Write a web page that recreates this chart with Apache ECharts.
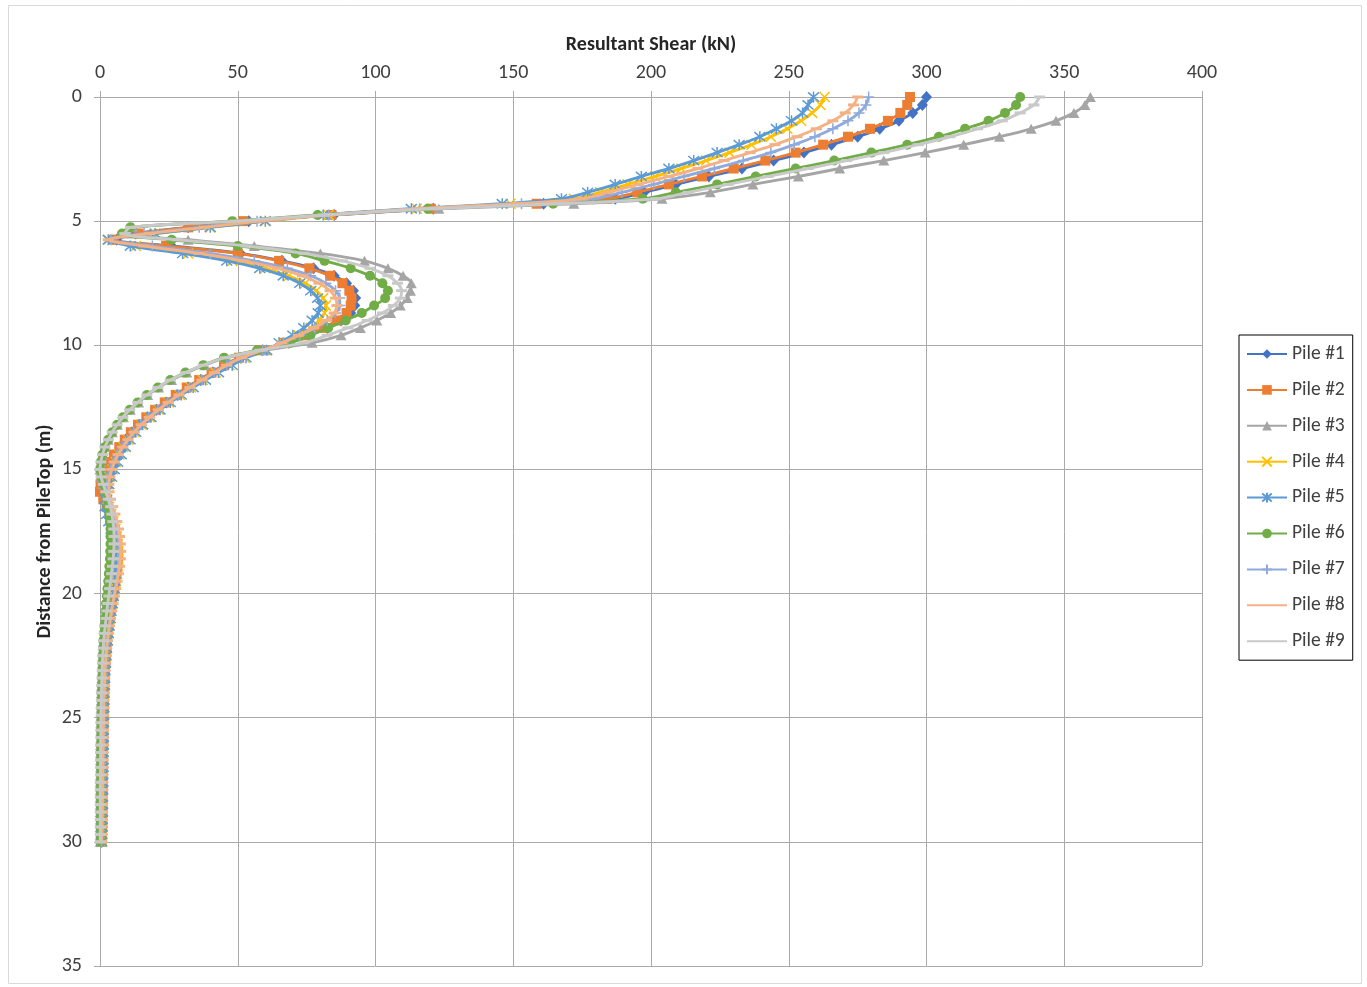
<!DOCTYPE html>
<html><head><meta charset="utf-8">
<script src="https://cdn.jsdelivr.net/npm/echarts@6/dist/echarts.min.js"></script>
<style>html,body{margin:0;padding:0;background:#fff}#c{width:1367px;height:987px}</style>
</head><body><div id="c"></div>
<script>
const depth = [0, 0.32, 0.64, 0.96, 1.28, 1.6, 1.92, 2.24, 2.56, 2.88, 3.2, 3.52, 3.84,
 4.1, 4.3, 4.5, 4.75, 5.0, 5.25, 5.5, 5.75, 6.0,
 6.3, 6.6, 6.9, 7.2, 7.5, 7.8, 8.1, 8.4, 8.7, 9.0, 9.3, 9.6, 9.9,
 10.2, 10.5, 10.8, 11.1, 11.4, 11.7, 12.0, 12.3, 12.6, 12.9, 13.2, 13.5, 13.8, 14.1, 14.4, 14.7, 15.0, 15.3, 15.6, 15.9,
 16.2, 16.5, 16.8, 17.1, 17.4, 17.7, 18.0, 18.3, 18.6, 18.9, 19.2, 19.5, 19.8, 20.1, 20.4, 20.7, 21.0, 21.3, 21.6, 21.9,
 22.2, 22.5, 22.8, 23.1, 23.4, 23.7, 24.0, 24.3, 24.6, 24.9, 25.2, 25.5, 25.8, 26.1, 26.4, 26.7, 27.0, 27.3, 27.6, 27.9, 28.2, 28.5, 28.8, 29.1, 29.4, 29.7, 30.0];

const pile1 = [300, 298.5, 295, 290, 283, 275, 265.5, 255.5, 244.5, 233, 221, 209, 197.5,
 187, 161, 121, 85, 54, 32, 13, 6, 26,
 51, 66, 77.5, 85, 89.5, 92, 92.8, 92.5, 91, 87.5, 82.5, 76, 68.5,
 59, 51, 45.5, 41, 36.5, 32, 28, 24, 20.5, 17.2, 14.2, 11.6, 9.3, 7.3, 5.4, 3.8, 2.4, 1.3, 0.6, 0.4,
 1.4, 2.5, 3.6, 4.6, 5.4, 6.0, 6.4, 6.6, 6.6, 6.4, 6.1, 5.7, 5.3, 4.8, 4.4, 4.0, 3.6, 3.2, 2.8, 2.5,
 2.4, 2.2, 2.0, 1.8, 1.7, 1.6, 1.5, 1.4, 1.4, 1.3, 1.3, 1.2, 1.2, 1.2, 1.1, 1.1, 1.1, 1.0, 1.0, 1.0, 0.9, 0.9, 0.9, 0.8, 0.8, 0.7, 0.6];

const pile2 = [294, 293, 290.5, 286, 279.5, 271.5, 262.5, 252.5, 241.5, 230, 218.5, 206.5, 195,
 184, 158.5, 120, 84, 52, 32, 14, 5, 24,
 50, 65, 76, 83.5, 88, 90.5, 91.3, 91, 89.5, 86, 81, 74.5, 67,
 58, 50.5, 45, 40.5, 36, 31.5, 27.5, 23.5, 20, 16.8, 13.8, 11.2, 9, 7, 5, 3.3, 1.9, 0.8, 0.2, 0,
 1.2, 2.4, 3.5, 4.5, 5.3, 5.9, 6.3, 6.5, 6.5, 6.3, 6.0, 5.6, 5.2, 4.8, 4.3, 3.9, 3.5, 3.1, 2.8, 2.5,
 2.4, 2.2, 2.0, 1.8, 1.7, 1.6, 1.5, 1.4, 1.4, 1.3, 1.3, 1.2, 1.2, 1.2, 1.1, 1.1, 1.1, 1.0, 1.0, 1.0, 0.9, 0.9, 0.9, 0.8, 0.8, 0.7, 0.6];

const pile3 = [359.5, 357.5, 353.5, 347, 338, 326.5, 313.5, 299.5, 284.5, 268.5, 253.5, 237, 221.5,
 204, 172, 123, 83, 49, 12, 10, 32, 56,
 80, 96, 104.5, 110, 113, 112.7, 111.5, 109, 105.5, 100.5, 94.5, 87.5, 77,
 60, 46, 38, 31.5, 26, 21.3, 17.3, 14, 11, 8.5, 6.3, 4.5, 3, 1.8, 0.9, 0.3, 0, 0.3, 1, 2,
 2.9, 3.6, 4.1, 4.5, 4.8, 5.0, 5.0, 4.9, 4.7, 4.4, 4.1, 3.8, 3.4, 3.1, 2.7, 2.4, 2.1, 1.8, 1.6, 1.4,
 1.2, 1.0, 0.9, 0.8, 0.7, 0.6, 0.5, 0.5, 0.4, 0.4, 0.3, 0.3, 0.3, 0.2, 0.2, 0.2, 0.2, 0.2, 0.1, 0.1, 0.1, 0.1, 0.1, 0.1, 0.1, 0.1, 0.1];

const pile4 = [263, 261.5, 258.5, 254.5, 249.5, 243.5, 236.5, 228.5, 220, 211, 201.5, 191.5, 181.5,
 172, 149, 115, 83, 60, 40, 20, 3, 13,
 32, 48, 60, 68.5, 74.5, 78.5, 81, 82, 81.5, 79.5, 76.5, 72, 66.5,
 60.5, 52.5, 47, 42, 37.3, 33, 29, 25, 21.3, 18, 15, 12.5, 10.3, 8.5, 7, 5.7, 4.6, 3.6, 2.8, 2.3,
 2.6, 3.3, 4.1, 4.9, 5.6, 6.1, 6.5, 6.7, 6.7, 6.5, 6.2, 5.8, 5.4, 5.0, 4.5, 4.1, 3.7, 3.3, 3.0, 2.7,
 2.4, 2.2, 2.0, 1.8, 1.7, 1.6, 1.5, 1.4, 1.4, 1.3, 1.3, 1.2, 1.2, 1.2, 1.1, 1.1, 1.1, 1.0, 1.0, 1.0, 0.9, 0.9, 0.9, 0.8, 0.8, 0.7, 0.6];

const pile5 = [259, 257, 255, 251, 245.5, 239.5, 232, 224, 215.5, 206.5, 196.5, 187, 177,
 167.5, 146, 113, 81, 60, 40, 20, 3, 11,
 30, 46, 58, 66.5, 72.5, 76.5, 79, 80, 79.2, 77, 74, 70, 65,
 60.5, 53, 48, 43, 38.3, 33.8, 29.5, 25.5, 21.8, 18.5, 15.5, 13, 10.9, 9.2, 7.7, 6.4, 5.2, 4.2, 3.2, 2.4,
 1.8, 1.8, 2.4, 3.2, 4.0, 4.6, 5.1, 5.5, 5.7, 5.7, 5.6, 5.4, 5.1, 4.8, 4.4, 4.0, 3.7, 3.3, 3.0, 2.7,
 2.4, 2.2, 2.0, 1.8, 1.7, 1.6, 1.5, 1.4, 1.4, 1.3, 1.3, 1.2, 1.2, 1.2, 1.1, 1.1, 1.1, 1.0, 1.0, 1.0, 0.9, 0.9, 0.9, 0.8, 0.8, 0.7, 0.6];

const pile6 = [334, 332.5, 328.5, 322.5, 314, 304.5, 293, 280, 266.5, 252.5, 238, 224, 209,
 197, 164.5, 119, 79, 48, 11, 8, 26, 50,
 71, 81.5, 91, 98, 102.5, 104.5, 103.5, 99.5, 95, 89.2, 82.8, 76.4, 69,
 57, 45, 37.5, 31, 25.5, 21, 17, 13.7, 10.8, 8.3, 6.2, 4.4, 3, 1.8, 0.9, 0.3, 0, 0.4, 1.2, 2.1,
 2.7, 3.1, 3.4, 3.6, 3.8, 3.8, 3.8, 3.7, 3.6, 3.4, 3.2, 3.0, 2.7, 2.5, 2.2, 2.0, 1.8, 1.6, 1.4, 1.2,
 1.1, 1.0, 0.9, 0.8, 0.7, 0.6, 0.5, 0.5, 0.4, 0.4, 0.3, 0.3, 0.3, 0.2, 0.2, 0.2, 0.2, 0.2, 0.1, 0.1, 0.1, 0.1, 0.1, 0.1, 0.1, 0.1, 0.1];

const pile7 = [279, 278, 275.5, 271.5, 266, 259.5, 252, 243.5, 233.5, 223, 212, 201, 189.5,
 179, 153, 116, 83, 57, 36, 16, 4, 19,
 40, 56, 68, 76.5, 82, 85.5, 87, 87, 85.5, 82.5, 78, 72.5, 66.5,
 59, 51.5, 46, 41.5, 37, 32.5, 28.5, 24.5, 21, 17.7, 14.8, 12.2, 10, 8, 6.3, 4.9, 3.8, 3, 2.5, 2.4,
 3.0, 3.8, 4.6, 5.4, 6.0, 6.5, 6.8, 7.0, 6.9, 6.7, 6.4, 6.0, 5.5, 5.1, 4.6, 4.2, 3.8, 3.4, 3.0, 2.7,
 2.4, 2.2, 2.0, 1.8, 1.7, 1.6, 1.5, 1.4, 1.4, 1.3, 1.3, 1.2, 1.2, 1.2, 1.1, 1.1, 1.1, 1.0, 1.0, 1.0, 0.9, 0.9, 0.9, 0.8, 0.8, 0.7, 0.6];

const pile8 = [275, 273.5, 270.5, 266, 260, 253, 245, 236, 226.5, 217, 206.5, 195.5, 184.5,
 175, 151, 115, 83, 58, 38, 18, 3, 16,
 36, 52, 64.5, 73.5, 79.5, 83.5, 85.5, 86, 85, 82, 77.5, 72, 66,
 59, 51.5, 46, 41.5, 37, 32.7, 28.7, 24.8, 21.2, 18, 15, 12.4, 10.2, 8.3, 6.6, 5.3, 4.3, 3.6, 3.2, 3.3,
 3.8, 4.6, 5.4, 6.1, 6.7, 7.1, 7.4, 7.5, 7.4, 7.1, 6.7, 6.2, 5.7, 5.2, 4.7, 4.2, 3.8, 3.4, 3.0, 2.7,
 2.4, 2.2, 2.0, 1.8, 1.7, 1.6, 1.5, 1.4, 1.4, 1.3, 1.3, 1.2, 1.2, 1.2, 1.1, 1.1, 1.1, 1.0, 1.0, 1.0, 0.9, 0.9, 0.9, 0.8, 0.8, 0.7, 0.6];

const pile9 = [341, 339, 334, 327.5, 318.5, 308.5, 297, 284.5, 271, 257, 242.5, 228, 213.5,
 202, 167, 121, 81, 49, 11, 9, 28, 53,
 74, 88, 98, 104.5, 108, 109.5, 109, 106.5, 102.5, 97, 90, 82.5, 74,
 58, 45.5, 37.5, 31, 25.5, 21, 17, 13.7, 10.8, 8.3, 6.2, 4.4, 3, 1.8, 0.9, 0.3, 0, 0.4, 1.2, 2.1,
 3.0, 3.8, 4.3, 4.7, 5.0, 5.1, 5.1, 5.0, 4.8, 4.5, 4.2, 3.9, 3.5, 3.2, 2.8, 2.5, 2.2, 1.9, 1.6, 1.4,
 1.2, 1.0, 0.9, 0.8, 0.7, 0.6, 0.5, 0.5, 0.4, 0.4, 0.3, 0.3, 0.3, 0.2, 0.2, 0.2, 0.2, 0.2, 0.1, 0.1, 0.1, 0.1, 0.1, 0.1, 0.1, 0.1, 0.1];

const pileNames = ['Pile #1', 'Pile #2', 'Pile #3', 'Pile #4', 'Pile #5', 'Pile #6', 'Pile #7', 'Pile #8', 'Pile #9'];
const pileValues = [pile1, pile2, pile3, pile4, pile5, pile6, pile7, pile8, pile9];

const colors = ['#4472C4', '#ED7D31', '#A5A5A5', '#FFC000', '#5B9BD5', '#70AD47', '#8FAADC', '#F4B183', '#C9C9C9'];
const markers = [
  {symbol: 'diamond', size: [11, 12], stroke: false},
  {symbol: 'rect', size: 10, stroke: false},
  {symbol: 'triangle', size: [11, 10], stroke: false},
  {symbol: 'path://M0,0L10,10M10,0L0,10', size: 10, stroke: true},
  {symbol: 'path://M0,0L10,10M10,0L0,10M5,-1L5,11', size: 11, stroke: true},
  {symbol: 'circle', size: 10, stroke: false},
  {symbol: 'path://M5,0L5,10M0,5L10,5', size: 11, stroke: true},
  {symbol: 'rect', size: [11, 3], stroke: false},
  {symbol: 'rect', size: [11, 3], stroke: false}
];

const FONT = 'Carlito, Calibri, Lato, "Open Sans", sans-serif';
const gridColor = '#aaaaaa';

const series = pileNames.map((name, k) => {
  const m = markers[k];
  const itemStyle = m.stroke
    ? {color: 'rgba(255,255,255,0)', borderColor: colors[k], borderWidth: 1.5}
    : {color: colors[k], borderWidth: 0};
  return {
    name: name,
    type: 'line',
    data: pileValues[k].map((v, i) => [v, depth[i]]),
    smooth: 0.35,
    symbol: m.symbol,
    symbolSize: m.size,
    showSymbol: true,
    showAllSymbol: true,
    lineStyle: {color: colors[k], width: 2.9},
    itemStyle: itemStyle,
    emphasis: {disabled: true},
    z: 2 + k
  };
});

const legendData = pileNames.map((name, k) =>
  (k >= 7) ? {name: name, itemStyle: {opacity: 0}} : {name: name});

const chart = echarts.init(document.getElementById('c'), null, {renderer: 'canvas'});
chart.setOption({
  animation: false,
  backgroundColor: '#ffffff',
  textStyle: {fontFamily: FONT},
  grid: {left: 100, right: 165, top: 97, bottom: 21, containLabel: false},
  xAxis: {
    type: 'value', position: 'top', min: 0, max: 400, interval: 50,
    name: 'Resultant Shear (kN)', nameLocation: 'middle', nameGap: 42,
    nameTextStyle: {fontFamily: FONT, fontWeight: 'bold', fontSize: 20, color: '#262626'},
    axisLine: {show: true, onZero: false, lineStyle: {color: gridColor, width: 1}},
    axisTick: {show: true, length: 6, lineStyle: {color: gridColor}},
    axisLabel: {fontFamily: FONT, fontSize: 20, color: '#404040', margin: 14},
    splitLine: {show: true, lineStyle: {color: gridColor, width: 1}}
  },
  yAxis: {
    type: 'value', inverse: true, min: 0, max: 35, interval: 5,
    name: 'Distance from PileTop (m)', nameLocation: 'middle', nameGap: 45, nameRotate: 90,
    nameMoveOverlap: false,
    nameTextStyle: {fontFamily: FONT, fontWeight: 'bold', fontSize: 20, color: '#262626'},
    axisLine: {show: true, onZero: false, lineStyle: {color: gridColor, width: 1}},
    axisTick: {show: true, length: 6, lineStyle: {color: gridColor}},
    axisLabel: {fontFamily: FONT, fontSize: 20, color: '#404040', margin: 18},
    splitLine: {show: true, lineStyle: {color: gridColor, width: 1}}
  },
  legend: {
    orient: 'vertical', left: 1239, top: 335,
    itemWidth: 40, itemHeight: 12, itemGap: 15.9,
    itemTextGap: 4,
    padding: [9, 8, 9, 7],
    borderColor: '#000', borderWidth: 1,
    textStyle: {fontFamily: FONT, fontSize: 19.5, color: '#404040'},
    data: legendData
  },
  graphic: [{
    type: 'rect', silent: true,
    shape: {x: 8.5, y: 5.5, width: 1353, height: 978},
    style: {fill: 'none', stroke: '#d9d9d9', lineWidth: 1}
  }],
  series: series
});
</script></body></html>
